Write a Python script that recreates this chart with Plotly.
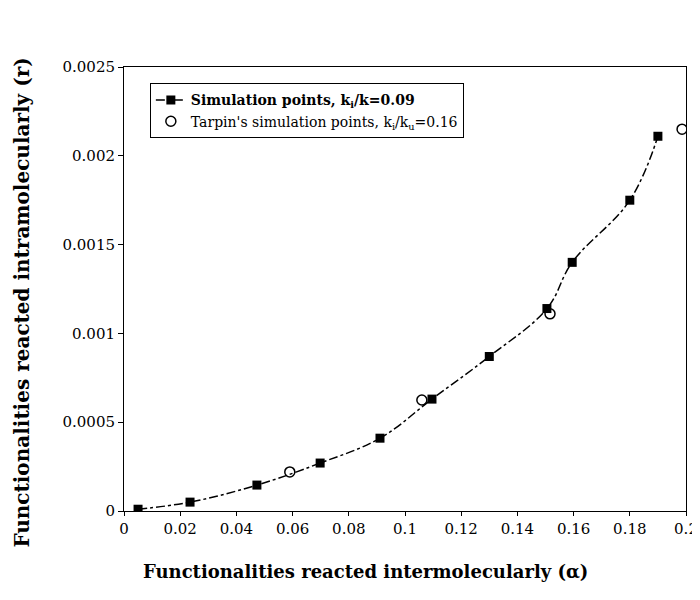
import plotly.graph_objects as go

# Simulation points, k_i/k = 0.09
sim_alpha = [0.005, 0.0235, 0.0473, 0.0698, 0.0911, 0.1096, 0.130, 0.1505, 0.1595, 0.180, 0.190]
sim_r = [0.00001, 0.00005, 0.000146, 0.00027, 0.00041, 0.00063, 0.00087, 0.00114, 0.00140, 0.00175, 0.00211]

# Tarpin's simulation points
tar_alpha = [0.059, 0.106, 0.1516, 0.1986]
tar_r = [0.00022, 0.000625, 0.00111, 0.00215]

x_ticks = [0, 0.02, 0.04, 0.06, 0.08, 0.1, 0.12, 0.14, 0.16, 0.18, 0.2]
x_ticklabels = ["0", "0.02", "0.04", "0.06", "0.08", "0.1", "0.12", "0.14", "0.16", "0.18", "0.2"]
y_ticks = [0, 0.0005, 0.001, 0.0015, 0.002, 0.0025]
y_ticklabels = ["0", "0.0005", "0.001", "0.0015", "0.002", "0.0025"]

x_title = "<b>Functionalities reacted intermolecularly (α)</b>"
y_title = "<b>Functionalities reacted intramolecularly (r)</b>"

font_family = "DejaVu Serif, Liberation Serif, serif"

fig = go.Figure()
fig.add_trace(go.Scatter(
    x=sim_alpha, y=sim_r, mode="lines+markers",
    name="<b>Simulation points, k<sub>i</sub>/k=0.09</b>",
    line=dict(color="black", width=1.5, dash="dashdot", shape="spline", smoothing=1.1),
    marker=dict(symbol="square", size=9, color="black"),
))
fig.add_trace(go.Scatter(
    x=tar_alpha, y=tar_r, mode="markers",
    name="Tarpin's simulation points, k<sub>i</sub>/k<sub>u</sub>=0.16",
    marker=dict(symbol="circle-open", size=10, color="black", line=dict(width=1.5)),
))

fig.update_layout(
    width=692, height=592,
    margin=dict(l=116, r=14, t=59, b=89, autoexpand=False),
    paper_bgcolor="white", plot_bgcolor="white",
    font=dict(family=font_family, size=13, color="black"),
    showlegend=True,
    legend=dict(
        x=0.046, y=0.963, xanchor="left", yanchor="top",
        bgcolor="white", bordercolor="black", borderwidth=1,
        font=dict(family=font_family, size=14, color="black"),
        tracegroupgap=0, itemwidth=30,
    ),
    xaxis=dict(
        range=[0, 0.2], tickvals=x_ticks, ticktext=x_ticklabels,
        showgrid=False, zeroline=False, automargin=False,
        showline=True, linecolor="black", linewidth=1, mirror=True,
        ticks="outside", ticklen=4, tickcolor="black",
        tickfont=dict(family=font_family, size=15),
    ),
    yaxis=dict(
        range=[0, 0.0025], tickvals=y_ticks, ticktext=y_ticklabels,
        showgrid=False, zeroline=False, automargin=False,
        showline=True, linecolor="black", linewidth=1, mirror=True,
        ticks="outside", ticklen=5, tickcolor="black",
        tickfont=dict(family=font_family, size=15),
    ),
    annotations=[
        dict(text=x_title, xref="paper", yref="paper", x=0.429, y=-0.137,
             xanchor="center", yanchor="middle", showarrow=False,
             font=dict(family=font_family, size=18)),
        dict(text=y_title, xref="paper", yref="paper", x=-0.181, y=0.47,
             xanchor="center", yanchor="middle", showarrow=False, textangle=-90,
             font=dict(family=font_family, size=20)),
    ],
)

fig.write_html("out.html")
